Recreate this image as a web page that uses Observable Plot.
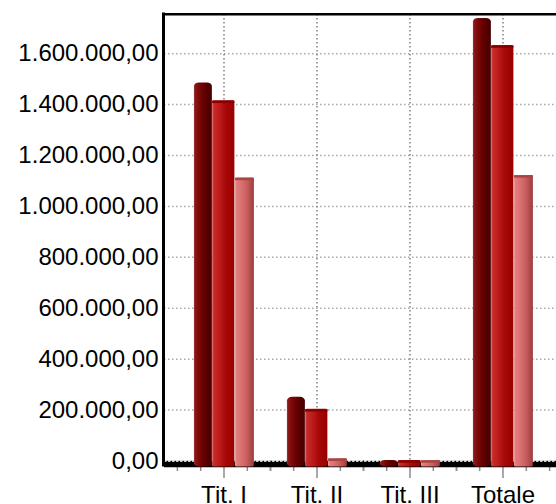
<!DOCTYPE html>
<html><head><meta charset="utf-8">
<script src="https://cdn.jsdelivr.net/npm/d3@7"></script>
<script src="https://cdn.jsdelivr.net/npm/@observablehq/plot@0.6"></script>
<style>
html,body{margin:0;padding:0;background:#fff;}
#chart{width:556px;height:504px;overflow:hidden;}
</style></head><body><div id="chart"></div>
<script>
// ---- data ----
const categories = ["Tit. I", "Tit. II", "Tit. III", "Totale"];
const seriesNames = ["Serie 1", "Serie 2", "Serie 3"];
const values1 = [1485000, 250000, 2000, 1738000];
const values2 = [1415000, 203000, 2000, 1632000];
const values3 = [1112000, 9000, 2000, 1122000];
const yTicks = [0, 200000, 400000, 600000, 800000, 1000000, 1200000, 1400000, 1600000];
const yMax = 1754000;

const itLocale = d3.formatLocale({decimal: ",", thousands: ".", grouping: [3], currency: ["", " €"]});
const fmt = itLocale.format(",.2f");

const seriesValues = [values1, values2, values3];
const rows = seriesValues.map(vals => categories.map((c, i) => ({cat: c, v: vals[i]})));

const W = 556, H = 504;
const xRange = [176.5, 549.5];
const bw = (xRange[1] - xRange[0]) / categories.length;
const minorOffsets = [-2, -1, 1, 2].map(k => k * bw / 4);

// bar horizontal extents relative to band center
const barExt = [[-29.7, -11.5], [-11.5, 11], [11.3, 30.5]];
const fills = ["url(#gDark)", "url(#gRed)", "url(#gPink)"];
const rims = [null, "#8a0000", "#a84646"];

const barMarks = [];
rows.forEach((data, s) => {
  const [l, r] = barExt[s];
  const insetLeft = bw / 2 + l, insetRight = bw / 2 - r;
  barMarks.push(Plot.barY(data, {
    x: "cat", y: "v", fill: fills[s], insetLeft, insetRight, insetBottom: -6,
    rx: s === 0 ? 5 : 1.5, ry: s === 0 ? 3.5 : 1.5
  }));
  if (rims[s]) {
    barMarks.push(Plot.tickY(data, {
      x: "cat", y: "v", stroke: rims[s], strokeWidth: 2.5, insetLeft, insetRight, dy: 1
    }));
  }
});

const plot = Plot.plot({
  width: W, height: H,
  marginLeft: 164, marginRight: 0, marginTop: 14, marginBottom: 43.5,
  style: {fontFamily: "'Liberation Sans', Arial, sans-serif", color: "#000", background: "#fff"},
  x: {type: "band", domain: categories, range: xRange, padding: 0},
  y: {domain: [0, yMax], range: [460.5, 14]},
  marks: [
    Plot.gridY(yTicks, {stroke: "#a8a8a8", strokeOpacity: 1, strokeWidth: 1.5, strokeDasharray: "1.5,2.5"}),
    Plot.gridX({stroke: "#808080", strokeOpacity: 1, strokeWidth: 1.5, strokeDasharray: "1.5,2.5"}),
    ...minorOffsets.map(k => Plot.axisX({tickSize: 10.5, dx: k, tickFormat: () => "", label: null, stroke: "#8c8c8c", strokeWidth: 1.5})),
    Plot.axisX({tickSize: 17.5, tickFormat: () => "", label: null, stroke: "#8c8c8c", strokeWidth: 1.5}),
    Plot.axisX({tickSize: 0, tickPadding: 24.5, label: null, fontSize: 24}),
    Plot.axisY(yTicks, {tickFormat: fmt, tickSize: 0, tickPadding: 6, label: null, fontSize: 24}),
    Plot.ruleY([0], {stroke: "#000", strokeWidth: 6.5, dy: 3}),
    Plot.ruleY([0], {stroke: "#fff", strokeWidth: 1.5, strokeDasharray: "2.5,1.5"}),
    ...barMarks
  ]
});

// gradients for the cylinder look
const svg = d3.select(plot);
const defs = svg.insert("defs", ":first-child");
function grad(id, stops) {
  const g = defs.append("linearGradient").attr("id", id).attr("x1", 0).attr("x2", 1).attr("y1", 0).attr("y2", 0);
  stops.forEach(([o, c]) => g.append("stop").attr("offset", o).attr("stop-color", c));
}
grad("gDark", [[0, "#a03a3a"], [0.08, "#8a1616"], [0.3, "#7a0808"], [0.55, "#660000"], [0.78, "#520000"], [1, "#480000"]]);
grad("gRed", [[0, "#dc5a5a"], [0.08, "#c82a2a"], [0.35, "#ba1a1a"], [0.6, "#a80808"], [1, "#980000"]]);
grad("gPink", [[0, "#f0a8a8"], [0.08, "#e27e7e"], [0.35, "#d96f6f"], [0.65, "#c65c5c"], [0.9, "#aa4545"], [1, "#9a3a3a"]]);

// frame: left and top black borders
svg.append("line").attr("x1", 163.5).attr("x2", 163.5).attr("y1", 12.5).attr("y2", 466.5)
  .attr("stroke", "#000").attr("stroke-width", 3);
svg.append("line").attr("x1", 162).attr("x2", W).attr("y1", 14.3).attr("y2", 14.3)
  .attr("stroke", "#000").attr("stroke-width", 2.5);

document.getElementById("chart").appendChild(plot);
</script></body></html>
